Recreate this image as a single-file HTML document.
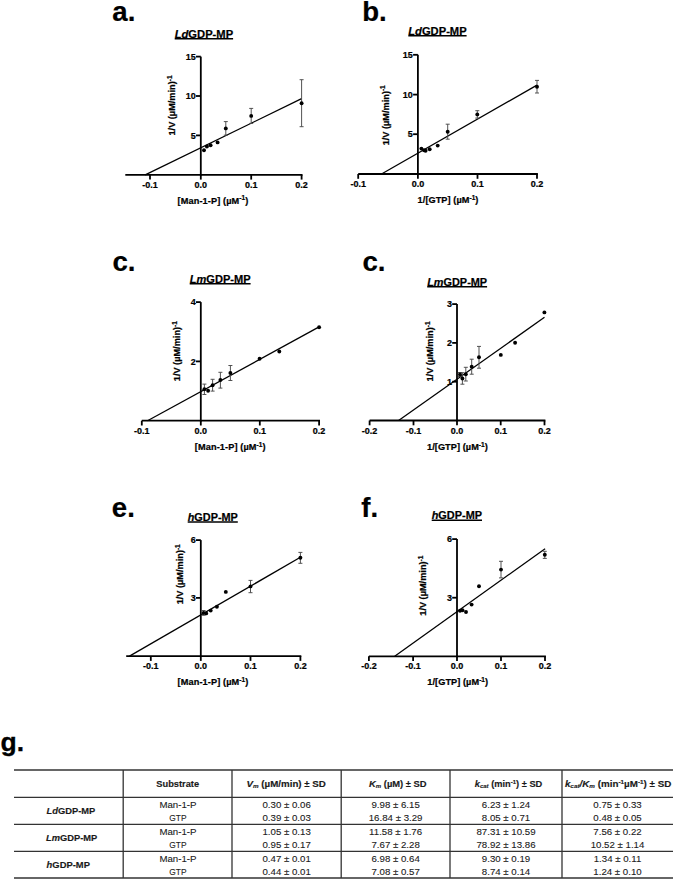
<!DOCTYPE html>
<html><head><meta charset="utf-8"><style>
html,body{margin:0;padding:0;background:#fff;}
svg{display:block;font-family:"Liberation Sans", sans-serif;}
.c text{stroke:#000;stroke-width:0.22px;}
</style></head><body>
<svg width="675" height="880" viewBox="0 0 675 880" fill="#000">
<g class="c">
<text x="112.3" y="21.4" font-size="27.6" font-weight="bold" text-anchor="start" >a.</text>
<text x="174.7" y="37.7" font-size="11.2" font-weight="bold" textLength="58.4" lengthAdjust="spacingAndGlyphs"><tspan font-style="italic">Ld</tspan>GDP-MP</text>
<line x1="174.7" y1="38.7" x2="233.1" y2="38.7" stroke="#000" stroke-width="1.5"/>
<line x1="200.8" y1="56.6" x2="200.8" y2="175.7" stroke="#000" stroke-width="1.8"/>
<line x1="196.0" y1="56.6" x2="200.8" y2="56.6" stroke="#000" stroke-width="1.8"/>
<text x="195.7" y="59.8" font-size="9.0" font-weight="bold" text-anchor="end" >15</text>
<line x1="196.0" y1="96.0" x2="200.8" y2="96.0" stroke="#000" stroke-width="1.8"/>
<text x="195.7" y="99.2" font-size="9.0" font-weight="bold" text-anchor="end" >10</text>
<line x1="196.0" y1="135.4" x2="200.8" y2="135.4" stroke="#000" stroke-width="1.8"/>
<text x="195.7" y="138.6" font-size="9.0" font-weight="bold" text-anchor="end" >5</text>
<line x1="125.3" y1="174.8" x2="302.5" y2="174.8" stroke="#000" stroke-width="1.8"/>
<line x1="150.0" y1="174.8" x2="150.0" y2="179.6" stroke="#000" stroke-width="1.8"/>
<text x="150.0" y="187.9" font-size="9.0" font-weight="bold" text-anchor="middle" >-0.1</text>
<line x1="200.8" y1="174.8" x2="200.8" y2="179.6" stroke="#000" stroke-width="1.8"/>
<text x="200.8" y="187.9" font-size="9.0" font-weight="bold" text-anchor="middle" >0.0</text>
<line x1="251.2" y1="174.8" x2="251.2" y2="179.6" stroke="#000" stroke-width="1.8"/>
<text x="251.2" y="187.9" font-size="9.0" font-weight="bold" text-anchor="middle" >0.1</text>
<line x1="301.6" y1="174.8" x2="301.6" y2="179.6" stroke="#000" stroke-width="1.8"/>
<text x="301.6" y="187.9" font-size="9.0" font-weight="bold" text-anchor="middle" >0.2</text>
<line x1="145.2" y1="174.8" x2="301.6" y2="98.7" stroke="#000" stroke-width="1.3"/>
<path d="M223.8,121.6H227.8M225.8,121.6V135.2M223.8,135.2H227.8" stroke="#4a4a4a" stroke-width="0.95" fill="none"/>
<path d="M249.2,108.4H253.2M251.2,108.4V123.4M249.2,123.4H253.2" stroke="#4a4a4a" stroke-width="0.95" fill="none"/>
<path d="M299.6,79.7H303.6M301.6,79.7V126.7M299.6,126.7H303.6" stroke="#4a4a4a" stroke-width="0.95" fill="none"/>
<circle cx="204" cy="150.2" r="1.95" fill="#000"/>
<circle cx="206.9" cy="146.5" r="1.95" fill="#000"/>
<circle cx="210.6" cy="145.3" r="1.95" fill="#000"/>
<circle cx="217.6" cy="142.4" r="1.95" fill="#000"/>
<circle cx="225.8" cy="128.4" r="1.95" fill="#000"/>
<circle cx="251.2" cy="115.9" r="1.95" fill="#000"/>
<circle cx="301.6" cy="103.3" r="1.95" fill="#000"/>
<text transform="translate(175.3,105.5) rotate(-90)" font-size="9.2" font-weight="bold" text-anchor="middle">1/V (µM/min)<tspan dy="-3.2" font-size="6.5">-1</tspan></text>
<text x="177.6" y="203.6" font-size="9.2" font-weight="bold" textLength="70.8" lengthAdjust="spacing">[Man-1-P] (µM<tspan dy="-3.2" font-size="6.5">-1</tspan><tspan dy="3.2">)</tspan></text>
<text x="362.2" y="21.0" font-size="27.6" font-weight="bold" text-anchor="start" >b.</text>
<text x="408.3" y="34.8" font-size="11.2" font-weight="bold" textLength="58.3" lengthAdjust="spacingAndGlyphs"><tspan font-style="italic">Ld</tspan>GDP-MP</text>
<line x1="408.3" y1="35.8" x2="466.6" y2="35.8" stroke="#000" stroke-width="1.5"/>
<line x1="417.9" y1="54.8" x2="417.9" y2="174.9" stroke="#000" stroke-width="1.8"/>
<line x1="413.1" y1="54.8" x2="417.9" y2="54.8" stroke="#000" stroke-width="1.8"/>
<text x="412.8" y="58.0" font-size="9.0" font-weight="bold" text-anchor="end" >15</text>
<line x1="413.1" y1="94.6" x2="417.9" y2="94.6" stroke="#000" stroke-width="1.8"/>
<text x="412.8" y="97.8" font-size="9.0" font-weight="bold" text-anchor="end" >10</text>
<line x1="413.1" y1="134.2" x2="417.9" y2="134.2" stroke="#000" stroke-width="1.8"/>
<text x="412.8" y="137.4" font-size="9.0" font-weight="bold" text-anchor="end" >5</text>
<line x1="358.2" y1="174.0" x2="537.9" y2="174.0" stroke="#000" stroke-width="1.8"/>
<line x1="358.2" y1="174.0" x2="358.2" y2="178.8" stroke="#000" stroke-width="1.8"/>
<text x="358.2" y="187.1" font-size="9.0" font-weight="bold" text-anchor="middle" >-0.1</text>
<line x1="417.9" y1="174.0" x2="417.9" y2="178.8" stroke="#000" stroke-width="1.8"/>
<text x="417.9" y="187.1" font-size="9.0" font-weight="bold" text-anchor="middle" >0.0</text>
<line x1="477.5" y1="174.0" x2="477.5" y2="178.8" stroke="#000" stroke-width="1.8"/>
<text x="477.5" y="187.1" font-size="9.0" font-weight="bold" text-anchor="middle" >0.1</text>
<line x1="537.0" y1="174.0" x2="537.0" y2="178.8" stroke="#000" stroke-width="1.8"/>
<text x="537.0" y="187.1" font-size="9.0" font-weight="bold" text-anchor="middle" >0.2</text>
<line x1="381.5" y1="174.0" x2="537" y2="85.1" stroke="#000" stroke-width="1.3"/>
<path d="M445.7,124.2H449.7M447.7,124.2V139.2M445.7,139.2H449.7" stroke="#4a4a4a" stroke-width="0.95" fill="none"/>
<path d="M475.3,110.7H479.3M477.3,110.7V118.1M475.3,118.1H479.3" stroke="#4a4a4a" stroke-width="0.95" fill="none"/>
<path d="M535,80.4H539M537,80.4V93.0M535,93.0H539" stroke="#4a4a4a" stroke-width="0.95" fill="none"/>
<circle cx="421.4" cy="148.6" r="1.95" fill="#000"/>
<circle cx="424.1" cy="150.3" r="1.95" fill="#000"/>
<circle cx="425.6" cy="150.8" r="1.95" fill="#000"/>
<circle cx="429.7" cy="149.2" r="1.95" fill="#000"/>
<circle cx="437.7" cy="145.6" r="1.95" fill="#000"/>
<circle cx="447.7" cy="131.7" r="1.95" fill="#000"/>
<circle cx="477.3" cy="114.4" r="1.95" fill="#000"/>
<circle cx="537" cy="86.7" r="1.95" fill="#000"/>
<text transform="translate(388.6,115.3) rotate(-90)" font-size="9.2" font-weight="bold" text-anchor="middle">1/V (µM/min)<tspan dy="-3.2" font-size="6.5">-1</tspan></text>
<text x="417.6" y="202.8" font-size="9.2" font-weight="bold" textLength="60.8" lengthAdjust="spacing">1/[GTP] (µM<tspan dy="-3.2" font-size="6.5">-1</tspan><tspan dy="3.2">)</tspan></text>
<text x="112.4" y="271.0" font-size="27.6" font-weight="bold" text-anchor="start" >c.</text>
<text x="189.7" y="282.8" font-size="11.2" font-weight="bold" textLength="60.9" lengthAdjust="spacingAndGlyphs"><tspan font-style="italic">Lm</tspan>GDP-MP</text>
<line x1="189.7" y1="283.8" x2="250.6" y2="283.8" stroke="#000" stroke-width="1.5"/>
<line x1="200.8" y1="302.1" x2="200.8" y2="421.6" stroke="#000" stroke-width="1.8"/>
<line x1="196.0" y1="302.1" x2="200.8" y2="302.1" stroke="#000" stroke-width="1.8"/>
<text x="195.7" y="305.3" font-size="9.0" font-weight="bold" text-anchor="end" >4</text>
<line x1="196.0" y1="361.4" x2="200.8" y2="361.4" stroke="#000" stroke-width="1.8"/>
<text x="195.7" y="364.6" font-size="9.0" font-weight="bold" text-anchor="end" >2</text>
<line x1="141.8" y1="420.7" x2="320.0" y2="420.7" stroke="#000" stroke-width="1.8"/>
<line x1="141.8" y1="420.7" x2="141.8" y2="425.5" stroke="#000" stroke-width="1.8"/>
<text x="141.8" y="433.8" font-size="9.0" font-weight="bold" text-anchor="middle" >-0.1</text>
<line x1="200.8" y1="420.7" x2="200.8" y2="425.5" stroke="#000" stroke-width="1.8"/>
<text x="200.8" y="433.8" font-size="9.0" font-weight="bold" text-anchor="middle" >0.0</text>
<line x1="259.8" y1="420.7" x2="259.8" y2="425.5" stroke="#000" stroke-width="1.8"/>
<text x="259.8" y="433.8" font-size="9.0" font-weight="bold" text-anchor="middle" >0.1</text>
<line x1="319.1" y1="420.7" x2="319.1" y2="425.5" stroke="#000" stroke-width="1.8"/>
<text x="319.1" y="433.8" font-size="9.0" font-weight="bold" text-anchor="middle" >0.2</text>
<line x1="147.5" y1="420.7" x2="319.1" y2="326.9" stroke="#000" stroke-width="1.3"/>
<path d="M202.4,384.1H206.4M204.4,384.1V394.5M202.4,394.5H206.4" stroke="#4a4a4a" stroke-width="0.95" fill="none"/>
<path d="M210.6,379.3H214.6M212.6,379.3V391.1M210.6,391.1H214.6" stroke="#4a4a4a" stroke-width="0.95" fill="none"/>
<path d="M218.4,372.3H222.4M220.4,372.3V388.1M218.4,388.1H222.4" stroke="#4a4a4a" stroke-width="0.95" fill="none"/>
<path d="M228.4,365.5H232.4M230.4,365.5V380.5M228.4,380.5H232.4" stroke="#4a4a4a" stroke-width="0.95" fill="none"/>
<circle cx="204.4" cy="389.2" r="1.95" fill="#000"/>
<circle cx="208.1" cy="390.7" r="1.95" fill="#000"/>
<circle cx="212.6" cy="385.2" r="1.95" fill="#000"/>
<circle cx="220.4" cy="380.0" r="1.95" fill="#000"/>
<circle cx="230.4" cy="373.0" r="1.95" fill="#000"/>
<circle cx="259.6" cy="358.7" r="1.95" fill="#000"/>
<circle cx="279.3" cy="351.5" r="1.95" fill="#000"/>
<circle cx="319.1" cy="327.3" r="1.95" fill="#000"/>
<text transform="translate(179.9,351.2) rotate(-90)" font-size="9.2" font-weight="bold" text-anchor="middle">1/V (µM/min)<tspan dy="-3.2" font-size="6.5">-1</tspan></text>
<text x="194.79999999999998" y="450.3" font-size="9.2" font-weight="bold" textLength="70.8" lengthAdjust="spacing">[Man-1-P] (µM<tspan dy="-3.2" font-size="6.5">-1</tspan><tspan dy="3.2">)</tspan></text>
<text x="362.4" y="271.0" font-size="27.6" font-weight="bold" text-anchor="start" >c.</text>
<text x="427.2" y="285.7" font-size="11.2" font-weight="bold" textLength="59.9" lengthAdjust="spacingAndGlyphs"><tspan font-style="italic">Lm</tspan>GDP-MP</text>
<line x1="427.2" y1="286.7" x2="487.1" y2="286.7" stroke="#000" stroke-width="1.5"/>
<line x1="457.0" y1="304.1" x2="457.0" y2="421.4" stroke="#000" stroke-width="1.8"/>
<line x1="452.2" y1="304.1" x2="457.0" y2="304.1" stroke="#000" stroke-width="1.8"/>
<text x="451.9" y="307.3" font-size="9.0" font-weight="bold" text-anchor="end" >3</text>
<line x1="452.2" y1="342.9" x2="457.0" y2="342.9" stroke="#000" stroke-width="1.8"/>
<text x="451.9" y="346.1" font-size="9.0" font-weight="bold" text-anchor="end" >2</text>
<line x1="452.2" y1="381.7" x2="457.0" y2="381.7" stroke="#000" stroke-width="1.8"/>
<text x="451.9" y="384.9" font-size="9.0" font-weight="bold" text-anchor="end" >1</text>
<line x1="369.6" y1="420.5" x2="545.4" y2="420.5" stroke="#000" stroke-width="1.8"/>
<line x1="369.6" y1="420.5" x2="369.6" y2="425.3" stroke="#000" stroke-width="1.8"/>
<text x="369.6" y="433.6" font-size="9.0" font-weight="bold" text-anchor="middle" >-0.2</text>
<line x1="413.5" y1="420.5" x2="413.5" y2="425.3" stroke="#000" stroke-width="1.8"/>
<text x="413.5" y="433.6" font-size="9.0" font-weight="bold" text-anchor="middle" >-0.1</text>
<line x1="457.0" y1="420.5" x2="457.0" y2="425.3" stroke="#000" stroke-width="1.8"/>
<text x="457.0" y="433.6" font-size="9.0" font-weight="bold" text-anchor="middle" >0.0</text>
<line x1="500.7" y1="420.5" x2="500.7" y2="425.3" stroke="#000" stroke-width="1.8"/>
<text x="500.7" y="433.6" font-size="9.0" font-weight="bold" text-anchor="middle" >0.1</text>
<line x1="544.5" y1="420.5" x2="544.5" y2="425.3" stroke="#000" stroke-width="1.8"/>
<text x="544.5" y="433.6" font-size="9.0" font-weight="bold" text-anchor="middle" >0.2</text>
<line x1="398.6" y1="420.5" x2="544.5" y2="317.3" stroke="#000" stroke-width="1.3"/>
<path d="M458,372.5H462M460,372.5V376.5M458,376.5H462" stroke="#4a4a4a" stroke-width="0.95" fill="none"/>
<path d="M460.4,372.7H464.4M462.4,372.7V384.2M460.4,384.2H464.4" stroke="#4a4a4a" stroke-width="0.95" fill="none"/>
<path d="M463.8,367.3H467.8M465.8,367.3V381.0M463.8,381.0H467.8" stroke="#4a4a4a" stroke-width="0.95" fill="none"/>
<path d="M469.7,359.2H473.7M471.7,359.2V374.2M469.7,374.2H473.7" stroke="#4a4a4a" stroke-width="0.95" fill="none"/>
<path d="M477,346.4H481M479,346.4V368.2M477,368.2H481" stroke="#4a4a4a" stroke-width="0.95" fill="none"/>
<circle cx="460" cy="374.5" r="1.95" fill="#000"/>
<circle cx="462.4" cy="378.5" r="1.95" fill="#000"/>
<circle cx="465.8" cy="374.2" r="1.95" fill="#000"/>
<circle cx="471.7" cy="366.8" r="1.95" fill="#000"/>
<circle cx="479" cy="357.2" r="1.95" fill="#000"/>
<circle cx="500.8" cy="354.9" r="1.95" fill="#000"/>
<circle cx="515.1" cy="342.7" r="1.95" fill="#000"/>
<circle cx="544.4" cy="312.4" r="1.95" fill="#000"/>
<text transform="translate(433,351.5) rotate(-90)" font-size="9.2" font-weight="bold" text-anchor="middle">1/V (µM/min)<tspan dy="-3.2" font-size="6.5">-1</tspan></text>
<text x="427.0" y="450.1" font-size="9.2" font-weight="bold" textLength="60.8" lengthAdjust="spacing">1/[GTP] (µM<tspan dy="-3.2" font-size="6.5">-1</tspan><tspan dy="3.2">)</tspan></text>
<text x="111.8" y="516.9" font-size="27.6" font-weight="bold" text-anchor="start" >e.</text>
<text x="187.7" y="521.1" font-size="11.2" font-weight="bold" textLength="50.1" lengthAdjust="spacingAndGlyphs"><tspan font-style="italic">h</tspan>GDP-MP</text>
<line x1="187.7" y1="522.1" x2="237.8" y2="522.1" stroke="#000" stroke-width="1.5"/>
<line x1="200.8" y1="540.1" x2="200.8" y2="657.0" stroke="#000" stroke-width="1.8"/>
<line x1="196.0" y1="540.1" x2="200.8" y2="540.1" stroke="#000" stroke-width="1.8"/>
<text x="195.7" y="543.3" font-size="9.0" font-weight="bold" text-anchor="end" >6</text>
<line x1="196.0" y1="597.9" x2="200.8" y2="597.9" stroke="#000" stroke-width="1.8"/>
<text x="195.7" y="601.1" font-size="9.0" font-weight="bold" text-anchor="end" >3</text>
<line x1="126.2" y1="656.1" x2="301.3" y2="656.1" stroke="#000" stroke-width="1.8"/>
<line x1="150.8" y1="656.1" x2="150.8" y2="660.9" stroke="#000" stroke-width="1.8"/>
<text x="150.8" y="669.2" font-size="9.0" font-weight="bold" text-anchor="middle" >-0.1</text>
<line x1="200.8" y1="656.1" x2="200.8" y2="660.9" stroke="#000" stroke-width="1.8"/>
<text x="200.8" y="669.2" font-size="9.0" font-weight="bold" text-anchor="middle" >0.0</text>
<line x1="250.5" y1="656.1" x2="250.5" y2="660.9" stroke="#000" stroke-width="1.8"/>
<text x="250.5" y="669.2" font-size="9.0" font-weight="bold" text-anchor="middle" >0.1</text>
<line x1="300.4" y1="656.1" x2="300.4" y2="660.9" stroke="#000" stroke-width="1.8"/>
<text x="300.4" y="669.2" font-size="9.0" font-weight="bold" text-anchor="middle" >0.2</text>
<line x1="129.5" y1="656.1" x2="300.4" y2="557.3" stroke="#000" stroke-width="1.3"/>
<path d="M201.6,610.5H205.6M203.6,610.5V615.3M201.6,615.3H205.6" stroke="#4a4a4a" stroke-width="0.95" fill="none"/>
<path d="M248.5,580.4H252.5M250.5,580.4V592.7M248.5,592.7H252.5" stroke="#4a4a4a" stroke-width="0.95" fill="none"/>
<path d="M298.4,552.4H302.4M300.4,552.4V563.3M298.4,563.3H302.4" stroke="#4a4a4a" stroke-width="0.95" fill="none"/>
<circle cx="203.6" cy="612.9" r="1.95" fill="#000"/>
<circle cx="206.2" cy="613.4" r="1.95" fill="#000"/>
<circle cx="210.7" cy="610.6" r="1.95" fill="#000"/>
<circle cx="216.9" cy="606.7" r="1.95" fill="#000"/>
<circle cx="225.8" cy="591.9" r="1.95" fill="#000"/>
<circle cx="250.5" cy="586.4" r="1.95" fill="#000"/>
<circle cx="300.4" cy="557.8" r="1.95" fill="#000"/>
<text transform="translate(183.3,574.3) rotate(-90)" font-size="9.2" font-weight="bold" text-anchor="middle">1/V (µM/min)<tspan dy="-3.2" font-size="6.5">-1</tspan></text>
<text x="177.6" y="685.1" font-size="9.2" font-weight="bold" textLength="70.8" lengthAdjust="spacing">[Man-1-P] (µM<tspan dy="-3.2" font-size="6.5">-1</tspan><tspan dy="3.2">)</tspan></text>
<text x="361.3" y="516.9" font-size="27.6" font-weight="bold" text-anchor="start" >f.</text>
<text x="431.7" y="519.2" font-size="11.2" font-weight="bold" textLength="50.3" lengthAdjust="spacingAndGlyphs"><tspan font-style="italic">h</tspan>GDP-MP</text>
<line x1="431.7" y1="520.2" x2="482.0" y2="520.2" stroke="#000" stroke-width="1.5"/>
<line x1="457.0" y1="539.1" x2="457.0" y2="657.2" stroke="#000" stroke-width="1.8"/>
<line x1="452.2" y1="539.1" x2="457.0" y2="539.1" stroke="#000" stroke-width="1.8"/>
<text x="451.9" y="542.3" font-size="9.0" font-weight="bold" text-anchor="end" >6</text>
<line x1="452.2" y1="597.7" x2="457.0" y2="597.7" stroke="#000" stroke-width="1.8"/>
<text x="451.9" y="600.9" font-size="9.0" font-weight="bold" text-anchor="end" >3</text>
<line x1="368.9" y1="656.3" x2="545.9" y2="656.3" stroke="#000" stroke-width="1.8"/>
<line x1="368.9" y1="656.3" x2="368.9" y2="661.1" stroke="#000" stroke-width="1.8"/>
<text x="368.9" y="669.4" font-size="9.0" font-weight="bold" text-anchor="middle" >-0.2</text>
<line x1="413.1" y1="656.3" x2="413.1" y2="661.1" stroke="#000" stroke-width="1.8"/>
<text x="413.1" y="669.4" font-size="9.0" font-weight="bold" text-anchor="middle" >-0.1</text>
<line x1="457.0" y1="656.3" x2="457.0" y2="661.1" stroke="#000" stroke-width="1.8"/>
<text x="457.0" y="669.4" font-size="9.0" font-weight="bold" text-anchor="middle" >0.0</text>
<line x1="501.0" y1="656.3" x2="501.0" y2="661.1" stroke="#000" stroke-width="1.8"/>
<text x="501.0" y="669.4" font-size="9.0" font-weight="bold" text-anchor="middle" >0.1</text>
<line x1="545.0" y1="656.3" x2="545.0" y2="661.1" stroke="#000" stroke-width="1.8"/>
<text x="545.0" y="669.4" font-size="9.0" font-weight="bold" text-anchor="middle" >0.2</text>
<line x1="394.7" y1="656.3" x2="545.1" y2="548.7" stroke="#000" stroke-width="1.3"/>
<path d="M499,561.3H503M501,561.3V577.9M499,577.9H503" stroke="#4a4a4a" stroke-width="0.95" fill="none"/>
<path d="M542.8,551.3H546.8M544.8,551.3V558.4M542.8,558.4H546.8" stroke="#4a4a4a" stroke-width="0.95" fill="none"/>
<circle cx="460" cy="610.7" r="1.95" fill="#000"/>
<circle cx="462.5" cy="610.2" r="1.95" fill="#000"/>
<circle cx="466" cy="612.0" r="1.95" fill="#000"/>
<circle cx="471.6" cy="604.6" r="1.95" fill="#000"/>
<circle cx="479" cy="586.3" r="1.95" fill="#000"/>
<circle cx="501" cy="569.6" r="1.95" fill="#000"/>
<circle cx="544.8" cy="554.7" r="1.95" fill="#000"/>
<text transform="translate(425.7,585.7) rotate(-90)" font-size="9.2" font-weight="bold" text-anchor="middle">1/V (µM/min)<tspan dy="-3.2" font-size="6.5">-1</tspan></text>
<text x="427.3" y="685.3" font-size="9.2" font-weight="bold" textLength="60.8" lengthAdjust="spacing">1/[GTP] (µM<tspan dy="-3.2" font-size="6.5">-1</tspan><tspan dy="3.2">)</tspan></text>
</g>
<text x="0.6" y="751" font-size="26.5" font-weight="bold" text-anchor="start" stroke="#000" stroke-width="0.3">g.</text>
<line x1="14" y1="770" x2="673" y2="770" stroke="#333" stroke-width="1.3"/>
<line x1="14" y1="797.4" x2="673" y2="797.4" stroke="#333" stroke-width="1.3"/>
<line x1="14" y1="824.4" x2="673" y2="824.4" stroke="#333" stroke-width="1.3"/>
<line x1="14" y1="851.3" x2="673" y2="851.3" stroke="#333" stroke-width="1.3"/>
<line x1="14" y1="878" x2="673" y2="878" stroke="#333" stroke-width="1.3"/>
<line x1="123.2" y1="770" x2="123.2" y2="878" stroke="#333" stroke-width="1.3"/>
<line x1="232" y1="770" x2="232" y2="878" stroke="#333" stroke-width="1.3"/>
<line x1="341.2" y1="770" x2="341.2" y2="878" stroke="#333" stroke-width="1.3"/>
<line x1="450" y1="770" x2="450" y2="878" stroke="#333" stroke-width="1.3"/>
<line x1="562" y1="770" x2="562" y2="878" stroke="#333" stroke-width="1.3"/>
<text x="156.3" y="786.8" font-size="9.6" font-weight="bold" fill="#1a1a1a" stroke="#1a1a1a" stroke-width="0.15" textLength="42.8" lengthAdjust="spacingAndGlyphs">Substrate</text>
<text x="246.5" y="786.8" font-size="9.6" font-weight="bold" fill="#1a1a1a" stroke="#1a1a1a" stroke-width="0.15" textLength="79.4" lengthAdjust="spacingAndGlyphs"><tspan font-style="italic">V</tspan><tspan font-style="italic" font-size="6.2" dy="1.2">m</tspan><tspan dy="-1.2"> (µM/min) ± SD</tspan></text>
<text x="369.0" y="786.8" font-size="9.6" font-weight="bold" fill="#1a1a1a" stroke="#1a1a1a" stroke-width="0.15" textLength="57.6" lengthAdjust="spacingAndGlyphs"><tspan font-style="italic">K</tspan><tspan font-style="italic" font-size="6.2" dy="1.2">m</tspan><tspan dy="-1.2"> (µM) ± SD</tspan></text>
<text x="474.8" y="786.8" font-size="9.6" font-weight="bold" fill="#1a1a1a" stroke="#1a1a1a" stroke-width="0.15" textLength="67.5" lengthAdjust="spacingAndGlyphs"><tspan font-style="italic">k</tspan><tspan font-style="italic" font-size="6.2" dy="1.2">cat</tspan><tspan dy="-1.2"> (min</tspan><tspan font-size="6.2" dy="-3.2">-1</tspan><tspan dy="3.2">) ± SD</tspan></text>
<text x="564.9" y="786.8" font-size="9.6" font-weight="bold" fill="#1a1a1a" stroke="#1a1a1a" stroke-width="0.15" textLength="106.4" lengthAdjust="spacingAndGlyphs"><tspan font-style="italic">k</tspan><tspan font-style="italic" font-size="6.2" dy="1.2">cat</tspan><tspan font-style="italic" dy="-1.2">/K</tspan><tspan font-style="italic" font-size="6.2" dy="1.2">m</tspan><tspan dy="-1.2"> (min</tspan><tspan font-size="6.2" dy="-3.2">-1</tspan><tspan dy="3.2">µM</tspan><tspan font-size="6.2" dy="-3.2">-1</tspan><tspan dy="3.2">) ± SD</tspan></text>
<text x="46.5" y="814.0" font-size="9.6" font-weight="bold" fill="#1a1a1a" stroke="#1a1a1a" stroke-width="0.15" textLength="48.8" lengthAdjust="spacingAndGlyphs"><tspan font-style="italic">Ld</tspan>GDP-MP</text>
<text transform="translate(177.9,807.6) scale(1.0,1)" font-size="9.4" font-weight="normal" text-anchor="middle" fill="#1a1a1a" stroke="#1a1a1a" stroke-width="0.1" textLength="37.0" lengthAdjust="spacingAndGlyphs">Man-1-P</text>
<text transform="translate(286.6,807.6) scale(1.03,1)" font-size="9.4" font-weight="normal" text-anchor="middle" fill="#1a1a1a" stroke="#1a1a1a" stroke-width="0.1">0.30 ± 0.06</text>
<text transform="translate(395.6,807.6) scale(1.03,1)" font-size="9.4" font-weight="normal" text-anchor="middle" fill="#1a1a1a" stroke="#1a1a1a" stroke-width="0.1">9.98 ± 6.15</text>
<text transform="translate(506.0,807.6) scale(1.03,1)" font-size="9.4" font-weight="normal" text-anchor="middle" fill="#1a1a1a" stroke="#1a1a1a" stroke-width="0.1">6.23 ± 1.24</text>
<text transform="translate(617.5,807.6) scale(1.03,1)" font-size="9.4" font-weight="normal" text-anchor="middle" fill="#1a1a1a" stroke="#1a1a1a" stroke-width="0.1">0.75 ± 0.33</text>
<text transform="translate(177.9,820.6) scale(1.0,1)" font-size="9.4" font-weight="normal" text-anchor="middle" fill="#1a1a1a" stroke="#1a1a1a" stroke-width="0.1" textLength="17.2" lengthAdjust="spacingAndGlyphs">GTP</text>
<text transform="translate(286.6,820.6) scale(1.03,1)" font-size="9.4" font-weight="normal" text-anchor="middle" fill="#1a1a1a" stroke="#1a1a1a" stroke-width="0.1">0.39 ± 0.03</text>
<text transform="translate(395.6,820.6) scale(1.03,1)" font-size="9.4" font-weight="normal" text-anchor="middle" fill="#1a1a1a" stroke="#1a1a1a" stroke-width="0.1">16.84 ± 3.29</text>
<text transform="translate(506.0,820.6) scale(1.03,1)" font-size="9.4" font-weight="normal" text-anchor="middle" fill="#1a1a1a" stroke="#1a1a1a" stroke-width="0.1">8.05 ± 0.71</text>
<text transform="translate(617.5,820.6) scale(1.03,1)" font-size="9.4" font-weight="normal" text-anchor="middle" fill="#1a1a1a" stroke="#1a1a1a" stroke-width="0.1">0.48 ± 0.05</text>
<text x="46.0" y="840.5" font-size="9.6" font-weight="bold" fill="#1a1a1a" stroke="#1a1a1a" stroke-width="0.15" textLength="51.2" lengthAdjust="spacingAndGlyphs"><tspan font-style="italic">Lm</tspan>GDP-MP</text>
<text transform="translate(177.9,834.6) scale(1.0,1)" font-size="9.4" font-weight="normal" text-anchor="middle" fill="#1a1a1a" stroke="#1a1a1a" stroke-width="0.1" textLength="37.0" lengthAdjust="spacingAndGlyphs">Man-1-P</text>
<text transform="translate(286.6,834.6) scale(1.03,1)" font-size="9.4" font-weight="normal" text-anchor="middle" fill="#1a1a1a" stroke="#1a1a1a" stroke-width="0.1">1.05 ± 0.13</text>
<text transform="translate(395.6,834.6) scale(1.03,1)" font-size="9.4" font-weight="normal" text-anchor="middle" fill="#1a1a1a" stroke="#1a1a1a" stroke-width="0.1">11.58 ± 1.76</text>
<text transform="translate(506.0,834.6) scale(1.03,1)" font-size="9.4" font-weight="normal" text-anchor="middle" fill="#1a1a1a" stroke="#1a1a1a" stroke-width="0.1">87.31 ± 10.59</text>
<text transform="translate(617.5,834.6) scale(1.03,1)" font-size="9.4" font-weight="normal" text-anchor="middle" fill="#1a1a1a" stroke="#1a1a1a" stroke-width="0.1">7.56 ± 0.22</text>
<text transform="translate(177.9,847.8) scale(1.0,1)" font-size="9.4" font-weight="normal" text-anchor="middle" fill="#1a1a1a" stroke="#1a1a1a" stroke-width="0.1" textLength="17.2" lengthAdjust="spacingAndGlyphs">GTP</text>
<text transform="translate(286.6,847.8) scale(1.03,1)" font-size="9.4" font-weight="normal" text-anchor="middle" fill="#1a1a1a" stroke="#1a1a1a" stroke-width="0.1">0.95 ± 0.17</text>
<text transform="translate(395.6,847.8) scale(1.03,1)" font-size="9.4" font-weight="normal" text-anchor="middle" fill="#1a1a1a" stroke="#1a1a1a" stroke-width="0.1">7.67 ± 2.28</text>
<text transform="translate(506.0,847.8) scale(1.03,1)" font-size="9.4" font-weight="normal" text-anchor="middle" fill="#1a1a1a" stroke="#1a1a1a" stroke-width="0.1">78.92 ± 13.86</text>
<text transform="translate(617.5,847.8) scale(1.03,1)" font-size="9.4" font-weight="normal" text-anchor="middle" fill="#1a1a1a" stroke="#1a1a1a" stroke-width="0.1">10.52 ± 1.14</text>
<text x="46.6" y="867.5" font-size="9.6" font-weight="bold" fill="#1a1a1a" stroke="#1a1a1a" stroke-width="0.15" textLength="43.3" lengthAdjust="spacingAndGlyphs"><tspan font-style="italic">h</tspan>GDP-MP</text>
<text transform="translate(177.9,861.5) scale(1.0,1)" font-size="9.4" font-weight="normal" text-anchor="middle" fill="#1a1a1a" stroke="#1a1a1a" stroke-width="0.1" textLength="37.0" lengthAdjust="spacingAndGlyphs">Man-1-P</text>
<text transform="translate(286.6,861.5) scale(1.03,1)" font-size="9.4" font-weight="normal" text-anchor="middle" fill="#1a1a1a" stroke="#1a1a1a" stroke-width="0.1">0.47 ± 0.01</text>
<text transform="translate(395.6,861.5) scale(1.03,1)" font-size="9.4" font-weight="normal" text-anchor="middle" fill="#1a1a1a" stroke="#1a1a1a" stroke-width="0.1">6.98 ± 0.64</text>
<text transform="translate(506.0,861.5) scale(1.03,1)" font-size="9.4" font-weight="normal" text-anchor="middle" fill="#1a1a1a" stroke="#1a1a1a" stroke-width="0.1">9.30 ± 0.19</text>
<text transform="translate(617.5,861.5) scale(1.03,1)" font-size="9.4" font-weight="normal" text-anchor="middle" fill="#1a1a1a" stroke="#1a1a1a" stroke-width="0.1">1.34 ± 0.11</text>
<text transform="translate(177.9,874.7) scale(1.0,1)" font-size="9.4" font-weight="normal" text-anchor="middle" fill="#1a1a1a" stroke="#1a1a1a" stroke-width="0.1" textLength="17.2" lengthAdjust="spacingAndGlyphs">GTP</text>
<text transform="translate(286.6,874.7) scale(1.03,1)" font-size="9.4" font-weight="normal" text-anchor="middle" fill="#1a1a1a" stroke="#1a1a1a" stroke-width="0.1">0.44 ± 0.01</text>
<text transform="translate(395.6,874.7) scale(1.03,1)" font-size="9.4" font-weight="normal" text-anchor="middle" fill="#1a1a1a" stroke="#1a1a1a" stroke-width="0.1">7.08 ± 0.57</text>
<text transform="translate(506.0,874.7) scale(1.03,1)" font-size="9.4" font-weight="normal" text-anchor="middle" fill="#1a1a1a" stroke="#1a1a1a" stroke-width="0.1">8.74 ± 0.14</text>
<text transform="translate(617.5,874.7) scale(1.03,1)" font-size="9.4" font-weight="normal" text-anchor="middle" fill="#1a1a1a" stroke="#1a1a1a" stroke-width="0.1">1.24 ± 0.10</text>
</svg>
</body></html>
